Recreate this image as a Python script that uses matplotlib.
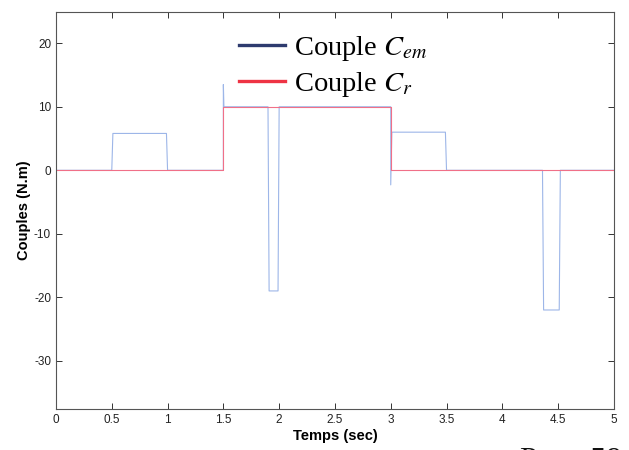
import numpy as np
import matplotlib.pyplot as plt
from matplotlib.lines import Line2D

# --- DATA ---
t_em = [0, 0.5, 0.51, 0.99, 1.0, 1.5, 1.5, 1.505, 1.52, 1.9, 1.91, 1.99, 2.0,
        3.0, 3.0, 3.01, 3.49, 3.5, 4.36, 4.37, 4.51, 4.52, 5.0]
c_em = [0, 0, 5.8, 5.8, 0, 0, 13.5, 10, 10, 10, -19, -19, 10,
        10, -2.3, 6.0, 6.0, 0, 0, -22, -22, 0, 0]

t_r = [0, 1.5, 1.5, 3.0, 3.0, 5.0]
c_r = [0, 0, 10, 10, 0, 0]

x_ticks = [0, 0.5, 1, 1.5, 2, 2.5, 3, 3.5, 4, 4.5, 5]
x_tick_labels = ['0', '0.5', '1', '1.5', '2', '2.5', '3', '3.5', '4', '4.5', '5']
y_ticks = [-30, -20, -10, 0, 10, 20]

legend_labels = ['Couple $C_{em}$', 'Couple $C_r$']

# --- STYLE ---
plt.rcParams['font.family'] = ['Liberation Sans', 'DejaVu Sans']
plt.rcParams['mathtext.fontset'] = 'stix'
plt.rcParams['axes.unicode_minus'] = False

fig = plt.figure(figsize=(6.29, 4.5), dpi=100)
ax = fig.add_axes([0.089, 0.091, 0.887, 0.882])

ax.plot(t_em, c_em, color='#9db6e8', linewidth=0.8)
ax.plot(t_r, c_r, color='#f07088', linewidth=0.8)

ax.set_xlim(0, 5)
ax.set_ylim(-37.6, 24.9)
ax.set_xticks(x_ticks)
ax.set_xticklabels(x_tick_labels)
ax.set_yticks(y_ticks)
ax.tick_params(direction='in', top=True, right=True, labelsize=8.5, length=4,
               width=0.7, colors='#333333', labelcolor='#222222')
for s in ax.spines.values():
    s.set_color('#555555')
    s.set_linewidth(0.8)

ax.set_xlabel('Temps (sec)', fontsize=10.5, fontweight='bold', labelpad=2)
ax.set_ylabel('Couples (N.m)', fontsize=10.5, fontweight='bold', labelpad=2)

handles = [Line2D([], [], color='#2e3b6e', linewidth=2.4),
           Line2D([], [], color='#ee3344', linewidth=2.4)]
ax.legend(handles, legend_labels, loc='upper left', bbox_to_anchor=(0.283, 1.01),
          frameon=False, handlelength=1.6, handletextpad=0.3, labelspacing=0.25,
          prop={'family': 'Liberation Serif', 'size': 20.5})

# scanned page number peeking in at the bottom
fig.text(0.827, -0.042, 'Page 59', fontsize=23, family='Liberation Serif',
         color='#111111', va='baseline')

plt.savefig('out.png', dpi=100)
